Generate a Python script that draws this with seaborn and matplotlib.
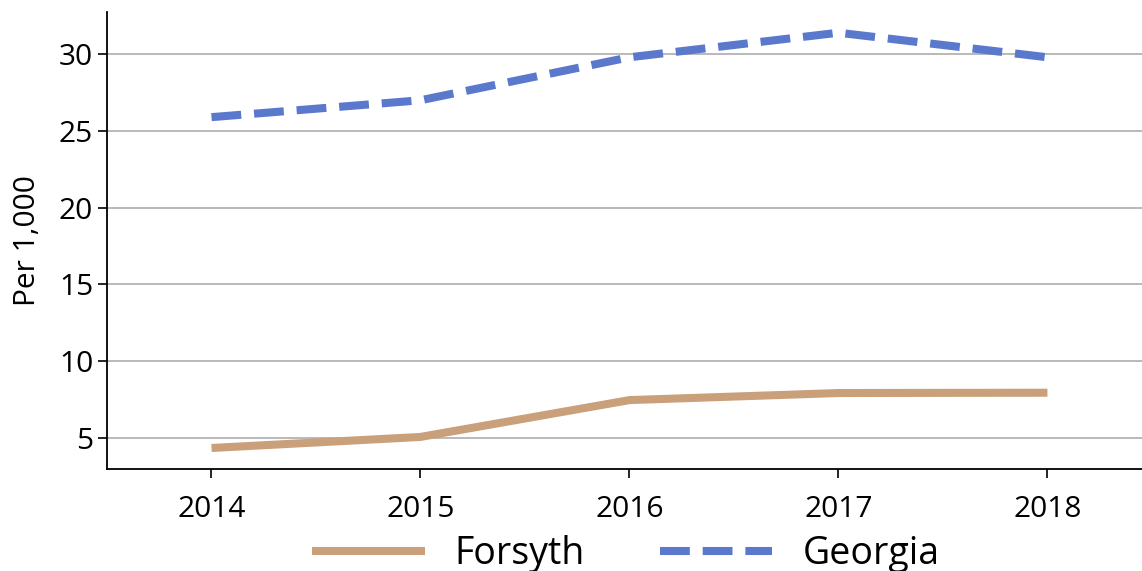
import matplotlib
matplotlib.use("Agg")
import matplotlib.pyplot as plt
import seaborn as sns
import pandas as pd
from matplotlib.lines import Line2D

years = [2014, 2015, 2016, 2017, 2018]
forsyth = [4.35, 5.07, 7.47, 7.93, 7.95]
georgia = [25.9, 27.0, 29.8, 31.4, 29.8]
series_names = ["Forsyth", "Georgia"]
y_ticks = [5, 10, 15, 20, 25, 30]

df = pd.DataFrame({
    "Year": years * 2,
    "Value": forsyth + georgia,
    "Area": [series_names[0]] * len(years) + [series_names[1]] * len(years),
})

sns.set_style("ticks")
plt.rcParams['font.family'] = ['Open Sans', 'DejaVu Sans']
plt.rcParams['text.color'] = 'black'
plt.rcParams['axes.labelcolor'] = 'black'
plt.rcParams['xtick.color'] = 'black'
plt.rcParams['ytick.color'] = 'black'

fig = plt.figure(figsize=(11.42, 5.71), dpi=100)
ax = fig.add_axes([0.0937, 0.1786, 0.915, 0.8004])

palette = {"Forsyth": "#c9a07a", "Georgia": "#5a78cc"}
sns.lineplot(data=df, x="Year", y="Value", hue="Area", style="Area",
             palette=palette, dashes={"Forsyth": "", "Georgia": (3.7, 1.6)},
             linewidth=5.8, ax=ax, legend=False)
for ln in ax.get_lines():
    ln.set_solid_capstyle("butt")
    ln.set_dash_capstyle("butt")

ax.set_xlim(2013.5, 2018.5)
ax.set_ylim(2.98, 32.75)
ax.set_xticks(years)
ax.set_xticklabels([str(y) for y in years])
ax.set_yticks(y_ticks)
ax.yaxis.grid(True, color="#b3b3b3", linewidth=1.3)
ax.set_axisbelow(True)
ax.set_xlabel("")
ax.set_ylabel("Per 1,000", fontsize=21.5, labelpad=12)
ax.tick_params(axis="both", labelsize=21.5, length=6.5, width=1.2, color="black")
ax.tick_params(axis="x", pad=12)
for s in ["left", "bottom"]:
    ax.spines[s].set_linewidth(1.3)
    ax.spines[s].set_color("black")
sns.despine(ax=ax, top=True, right=True)

handles = [
    Line2D([], [], color=palette["Forsyth"], linewidth=5.8, solid_capstyle="butt"),
    Line2D([], [], color=palette["Georgia"], linewidth=5.8, dashes=(3.7, 1.6),
           dash_capstyle="butt"),
]
fig.legend(handles, series_names, loc="center", bbox_to_anchor=(0.548, 0.03),
           ncol=2, frameon=False, fontsize=27, handlelength=3.0,
           columnspacing=2.0, handletextpad=0.8)

fig.savefig("out.png", dpi=100)
